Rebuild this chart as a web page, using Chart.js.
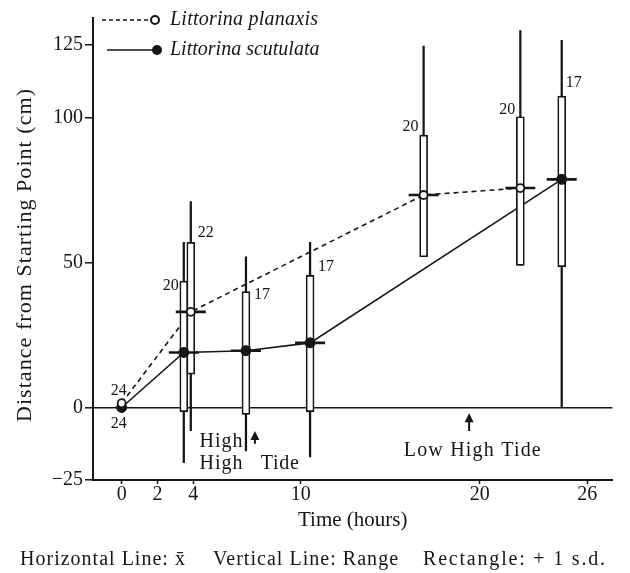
<!DOCTYPE html>
<html>
<head>
<meta charset="utf-8">
<script src="https://cdn.jsdelivr.net/npm/chart.js@4.4.1/dist/chart.umd.min.js"></script>
<style>
  html, body { margin: 0; padding: 0; background: #fff; }
  #wrap { width: 630px; height: 573px; }
</style>
</head>
<body>
<div id="wrap"><canvas id="myChart"></canvas></div>
<script>
// Littorina planaxis (open circles, dashed line)
const planHours  = [0, 3.86, 16.86, 22.26];
const planMean   = [1.5, 33, 73.3, 75.7];
const planSdLow  = [null, 11.5, 52, 49];
const planSdHigh = [null, 57, 94, 100.3];
const planMin    = [null, -8, 52, 49];
const planMax    = [null, 71, 124.7, 130];
const planN      = ['24', '22', '20', '20'];

// Littorina scutulata (filled circles, solid line)
const scutHours  = [0, 3.47, 6.94, 10.52, 24.57];
const scutMean   = [0, 19, 19.6, 22.3, 78.7];
const scutSdLow  = [null, -1.4, -2.4, -1.4, 48.6];
const scutSdHigh = [null, 43.6, 40, 45.6, 107.4];
const scutMin    = [null, -19, -15, -17, 0];
const scutMax    = [null, 57, 52, 57, 126.7];
const scutN      = ['24', '20', '17', '17', '17'];

const xTicks = [0, 2, 4, 10, 20, 26];
const yTicks = [-25, 0, 50, 100, 125];

const ink = '#161616';
const serif = "'Liberation Serif', 'Times New Roman', serif";

// where each n label sits relative to its box top: [side, dx px, dy px]
const planNPos = [['above', -3, -12], ['right', 7, -9], ['left', -5, -8], ['left', -5, -7]];
const scutNPos = [['below', -3, 16], ['left', -5, 5], ['right', 8, 3], ['right', 8, -9], ['right', 4, -13]];

function pts(xs, ys) {
  return xs.map((x, i) => ({x: x, y: ys[i]}));
}
function spans(xs, lo, hi) {
  const out = [];
  xs.forEach((x, i) => { if (lo[i] != null) out.push({x: x, y: [lo[i], hi[i]]}); });
  return out;
}
function means(xs, ys, lo) {
  const out = [];
  xs.forEach((x, i) => { if (lo[i] != null) out.push({x: x, y: ys[i]}); });
  return out;
}

// draw text stretched (letter spacing) to a given width, left aligned
function spaced(c, text, x, y, width) {
  c.letterSpacing = '0px';
  const w = c.measureText(text).width;
  const sp = Math.max(0, (width - w) / (text.length - 1));
  c.letterSpacing = sp.toFixed(2) + 'px';
  c.textAlign = 'left';
  c.fillText(text, x, y);
  c.letterSpacing = '0px';
}

const annot = {
  id: 'annot',
  afterDraw(chart) {
    const c = chart.ctx;
    const xs = chart.scales.x, ys = chart.scales.y;
    const ca = chart.chartArea;
    c.save();
    c.fillStyle = ink;
    c.strokeStyle = ink;

    // sample sizes
    c.font = '16px ' + serif;
    c.textBaseline = 'middle';
    function nLabels(hours, mean, top, texts, pos) {
      hours.forEach((h, i) => {
        const px = xs.getPixelForValue(h);
        const ref = top[i] != null ? ys.getPixelForValue(top[i]) : ys.getPixelForValue(mean[i]);
        const p = pos[i];
        c.textAlign = p[0] === 'left' ? 'right' : (p[0] === 'right' ? 'left' : 'center');
        c.fillText(texts[i], px + p[1], ref + p[2]);
      });
    }
    nLabels(planHours, planMean, planSdHigh, planN, planNPos);
    nLabels(scutHours, scutMean, scutSdHigh, scutN, scutNPos);

    // tide notes
    function arrow(t, y1, y2) {
      const px = xs.getPixelForValue(t);
      const top = ys.getPixelForValue(y1), bot = ys.getPixelForValue(y2);
      c.lineWidth = 2;
      c.beginPath(); c.moveTo(px, top + 4); c.lineTo(px, bot); c.stroke();
      c.beginPath(); c.moveTo(px, top); c.lineTo(px - 4.5, top + 9); c.lineTo(px + 4.5, top + 9); c.closePath(); c.fill();
    }
    c.font = '20px ' + serif;
    spaced(c, 'High', xs.getPixelForValue(4.35), ys.getPixelForValue(-11.8), 43);
    spaced(c, 'High', xs.getPixelForValue(4.35), ys.getPixelForValue(-19.3), 43);
    spaced(c, 'Tide', xs.getPixelForValue(7.77), ys.getPixelForValue(-19.3), 38);
    arrow(7.44, -8.1, -12.5);
    spaced(c, 'Low High Tide', xs.getPixelForValue(15.75), ys.getPixelForValue(-14.9), 137);
    arrow(19.4, -2, -8.1);

    // legend
    c.lineWidth = 1.5;
    c.setLineDash([4, 3]);
    c.beginPath(); c.moveTo(ca.left + 9, 20); c.lineTo(ca.left + 56, 20); c.stroke();
    c.setLineDash([]);
    c.beginPath(); c.arc(ca.left + 62, 20, 4, 0, Math.PI * 2);
    c.fillStyle = '#fff'; c.fill(); c.lineWidth = 2; c.stroke();
    c.lineWidth = 1.5;
    c.beginPath(); c.moveTo(ca.left + 14, 50); c.lineTo(ca.left + 60, 50); c.stroke();
    c.fillStyle = ink;
    c.beginPath(); c.arc(ca.left + 64, 50, 5, 0, Math.PI * 2); c.fill();
    c.font = 'italic 20px ' + serif;
    spaced(c, 'Littorina planaxis', ca.left + 77, 20, 148);
    spaced(c, 'Littorina scutulata', ca.left + 77, 50, 148);

    // y axis title
    c.font = '22px ' + serif;
    c.save();
    c.translate(25, 256);
    c.rotate(-Math.PI / 2);
    spaced(c, 'Distance from Starting Point (cm)', -166, 0, 333);
    c.restore();

    // footer key
    c.font = '20px ' + serif;
    spaced(c, 'Horizontal Line: x\u0304', 20, 560, 166);
    spaced(c, 'Vertical Line: Range', 213, 560, 185);
    spaced(c, 'Rectangle: + 1 s.d.', 423, 560, 182);
    c.restore();
  }
};

const ctx = document.getElementById('myChart');

new Chart(ctx, {
  type: 'bar',
  data: {
    datasets: [
      // connecting lines, drawn first
      { type: 'line', label: 'Littorina planaxis', data: pts(planHours, planMean),
        borderColor: ink, borderWidth: 1.6, borderDash: [5, 4], pointRadius: 0, order: 9 },
      { type: 'line', label: 'Littorina scutulata', data: pts(scutHours, scutMean),
        borderColor: ink, borderWidth: 1.6, pointRadius: 0, order: 9 },
      // range
      { label: 'plan range', data: spans(planHours, planMin, planMax), backgroundColor: ink,
        barThickness: 1.6, grouped: false, order: 8 },
      { label: 'scut range', data: spans(scutHours, scutMin, scutMax), backgroundColor: ink,
        barThickness: 1.6, grouped: false, order: 8 },
      // +/- 1 s.d.
      { label: 'plan sd', data: spans(planHours, planSdLow, planSdHigh), backgroundColor: '#fff',
        borderColor: ink, borderWidth: 1.7, borderSkipped: false, barThickness: 8, grouped: false, order: 7 },
      { label: 'scut sd', data: spans(scutHours, scutSdLow, scutSdHigh), backgroundColor: '#fff',
        borderColor: ink, borderWidth: 1.7, borderSkipped: false, barThickness: 8, grouped: false, order: 7 },
      // mean ticks
      { type: 'line', label: 'plan mean', data: means(planHours, planMean, planSdLow), showLine: false,
        pointStyle: 'line', pointRadius: 15, borderColor: ink, borderWidth: 2.6, order: 6 },
      { type: 'line', label: 'scut mean', data: means(scutHours, scutMean, scutSdLow), showLine: false,
        pointStyle: 'line', pointRadius: 15, borderColor: ink, borderWidth: 2.6, order: 6 },
      // markers on top
      { type: 'line', label: 'plan pts', data: pts(planHours, planMean), showLine: false,
        pointRadius: 4, pointBackgroundColor: '#fff', pointBorderColor: ink, pointBorderWidth: 1.8, order: 1 },
      { type: 'line', label: 'scut pts', data: pts(scutHours, scutMean), showLine: false,
        pointRadius: 5, pointBackgroundColor: ink, pointBorderColor: ink, pointBorderWidth: 1, order: 1 }
    ]
  },
  options: {
    responsive: true,
    maintainAspectRatio: false,
    animation: false,
    layout: { padding: { top: 8, right: 10, left: 0, bottom: 24 } },
    plugins: {
      legend: { display: false },
      tooltip: { enabled: false }
    },
    scales: {
      x: {
        type: 'linear',
        min: -1.6,
        max: 27.4,
        offset: false,
        afterBuildTicks: s => { s.ticks = xTicks.map(v => ({value: v})); },
        afterFit: s => { s.height = 69; },
        border: { color: ink, width: 2 },
        grid: { display: true, drawOnChartArea: false, offset: false, tickColor: ink, tickLength: 4, tickWidth: 1.5 },
        ticks: { color: ink, font: { family: serif, size: 20 }, padding: -1, maxRotation: 0 },
        title: { display: true, text: 'Time (hours)', color: ink, font: { family: serif, size: 21 },
          padding: { top: 0, bottom: 16 } }
      },
      y: {
        min: -25,
        max: 134.5,
        afterBuildTicks: s => { s.ticks = yTicks.map(v => ({value: v})); },
        afterFit: s => { s.width = 93; },
        border: { color: ink, width: 2 },
        grid: {
          color: c => (c.tick && c.tick.value === 0) ? ink : 'rgba(0,0,0,0)',
          lineWidth: 1.6,
          tickColor: ink,
          tickLength: 8,
          tickWidth: 1.5
        },
        ticks: { color: ink, font: { family: serif, size: 20 }, padding: 2,
          callback: v => v < 0 ? '\u2212' + Math.abs(v) : String(v) }
      }
    }
  },
  plugins: [annot]
});
</script>
</body>
</html>
